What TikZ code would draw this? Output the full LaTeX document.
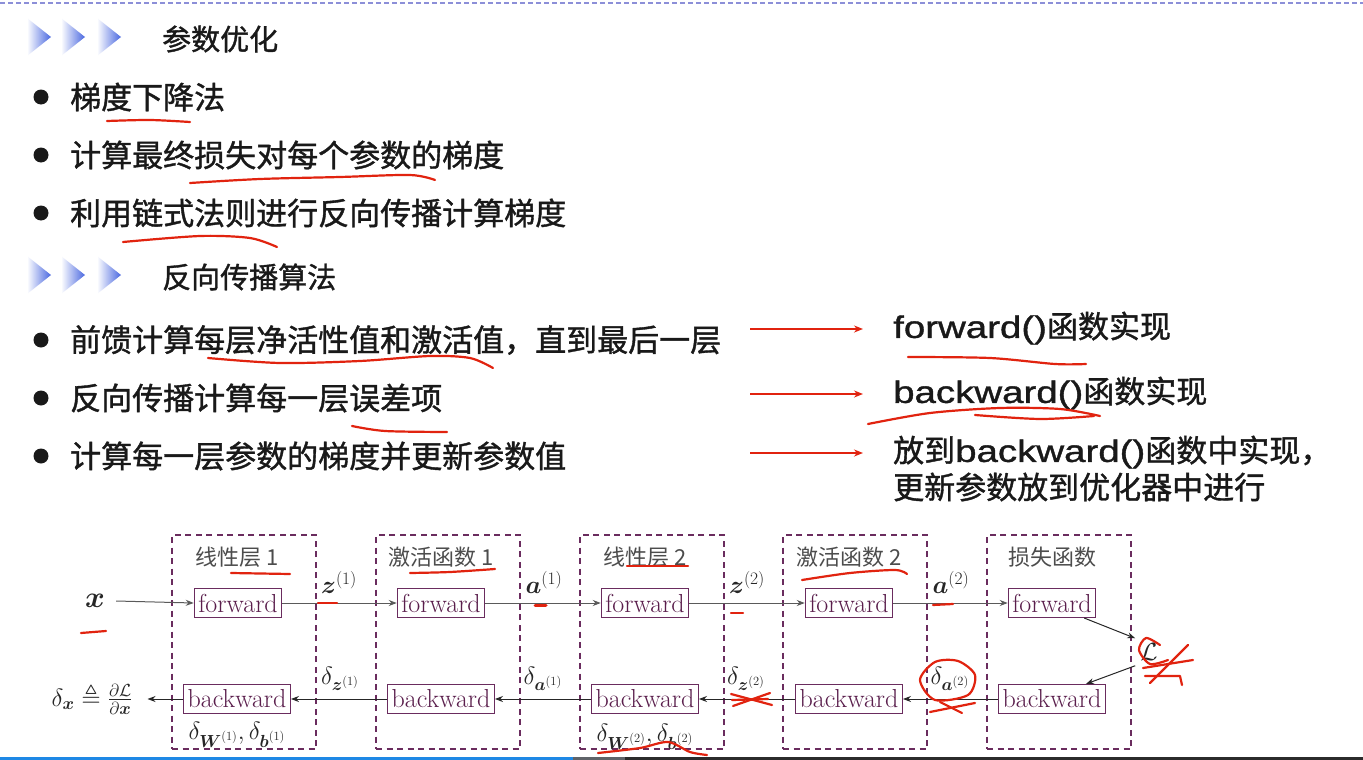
\RequirePackage{fix-cm}
\documentclass[tikz,border=0pt]{standalone}
\usepackage{amsmath,amssymb}
\usepackage{fontspec}
\newfontfamily\cjk{Noto Sans CJK SC}
\newfontfamily\cjkb[FakeBold=1.2]{Noto Sans CJK SC}
\newfontfamily\latf[FakeStretch=1.24,FakeBold=1.2]{Liberation Sans}
\usetikzlibrary{arrows.meta}
\definecolor{framec}{HTML}{6A2C5E}
\definecolor{nodetext}{HTML}{5A1E4C}
\definecolor{redink}{HTML}{E1230F}
\definecolor{chevc}{HTML}{4A68E0}
\definecolor{topdash}{HTML}{8C8FD8}
\definecolor{barblue}{HTML}{1E88E5}
\definecolor{bargray}{HTML}{5F6368}
\definecolor{bardark}{HTML}{2B2B2B}
\definecolor{fwdgray}{HTML}{5A5A5A}
\tikzset{
  heading/.style={anchor=west, inner sep=0pt, font=\cjkb\fontsize{29}{32}\selectfont, text=black!90},
  bullettext/.style={anchor=west, inner sep=0pt, font=\cjkb\fontsize{31}{34}\selectfont, text=black!90},
  righttext/.style={anchor=west, inner sep=0pt, font=\cjkb\fontsize{31}{34}\selectfont, text=black!90},
  bulletdot/.style={fill=black!90, draw=none},
  redarrow/.style={draw=redink, line width=2.4pt, -{Stealth[length=9pt,width=7pt]}},
  ink/.style={draw=redink, line width=2.2pt, line cap=round, line join=round},
  layerbox/.style={draw=framec, line width=1.4pt, dash pattern=on 6pt off 4.5pt, minimum width=144pt, minimum height=214pt, inner sep=0pt},
  layertitle/.style={font=\cjk\fontsize{22}{24}\selectfont, text=black!70, inner sep=0pt},
  fbox/.style={draw=framec, line width=1.1pt, text=nodetext, font=\fontsize{26}{28}\selectfont, inner xsep=4pt, inner ysep=0pt, minimum height=29pt},
  mlabel/.style={font=\fontsize{25}{27}\selectfont, inner sep=1pt, text=black!85},
  farrow/.style={draw=fwdgray, line width=1pt, -{Stealth[length=8pt,width=6pt]}},
  barrow/.style={draw=black!85, line width=1pt, -{Stealth[length=8pt,width=6pt]}},
}
\begin{document}
\begin{tikzpicture}[x=1pt,y=-1pt]
\useasboundingbox (0,0) rectangle (1363,760);
\fill[white] (0,0) rectangle (1363,760);
% top dashed line
\draw[topdash, line width=1.3pt, dash pattern=on 5pt off 3pt] (0,3) -- (1363,3);
% bottom bars
\fill[barblue] (0,757) rectangle (573,760);
\fill[bargray] (573,757) rectangle (625,760);
\fill[bardark] (625,757) rectangle (1363,760);

% chevrons
\foreach \cx/\cy in {27/37,61/37,97/37, 27/275,61/275,97/275}{
  \shade[left color=white, right color=chevc, draw=none]
    (\cx,\cy-19) -- (\cx+24,\cy) -- (\cx,\cy+19) -- cycle;
}

% headings
\node[heading] (h1) at (162,39) {参数优化};
\node[heading] (h2) at (162,277) {反向传播算法};

% bullets
\foreach \by in {97,155,213,340,398,456}{
  \fill[bulletdot] (41,\by) circle (7.5pt);
}
\node[bullettext] (b1) at (70,97) {梯度下降法};
\node[bullettext] (b2) at (70,155) {计算最终损失对每个参数的梯度};
\node[bullettext] (b3) at (70,213) {利用链式法则进行反向传播计算梯度};
\node[bullettext] (b4) at (70,340) {前馈计算每层净活性值和激活值，直到最后一层};
\node[bullettext] (b5) at (70,398) {反向传播计算每一层误差项};
\node[bullettext] (b6) at (70,456) {计算每一层参数的梯度并更新参数值};

% right texts
\node[righttext] (r1) at (893,328) {{\latf forward()}函数实现};
\node[righttext] (r2) at (893,393) {{\latf backward()}函数实现};
\node[righttext] (r3) at (893,452) {放到{\latf backward()}函数中实现，};
\node[righttext] (r4) at (893,487) {更新参数放到优化器中进行};

% red arrows
\coordinate (ra1) at (750,329);
\coordinate (ra2) at (750,394);
\coordinate (ra3) at (750,453);
\draw[redarrow] (ra1) -- ([xshift=-30pt]r1.west |- ra1);
\draw[redarrow] (ra2) -- ([xshift=-30pt]r2.west |- ra2);
\draw[redarrow] (ra3) -- ([xshift=-30pt]r3.west |- ra3);

% ===== diagram =====
\node[layerbox] (L1) at (244,642) {};
\node[layerbox] (L2) at (448,642) {};
\node[layerbox] (L3) at (652,642) {};
\node[layerbox] (L4) at (855,642) {};
\node[layerbox] (L5) at (1059,642) {};

\node[layertitle] (t1) at (237,557) {线性层 1};
\node[layertitle] (t2) at (441,557) {激活函数 1};
\node[layertitle] (t3) at (645,557) {线性层 2};
\node[layertitle] (t4) at (849,557) {激活函数 2};
\node[layertitle] (t5) at (1052,557) {损失函数};

\node[fbox] (f1) at (238,603) {forward};
\node[fbox] (f2) at (441,603) {forward};
\node[fbox] (f3) at (645,603) {forward};
\node[fbox] (f4) at (849,603) {forward};
\node[fbox] (f5) at (1052,603) {forward};

\node[fbox] (k1) at (237,699) {backward};
\node[fbox] (k2) at (441,699) {backward};
\node[fbox] (k3) at (645,699) {backward};
\node[fbox] (k4) at (849,699) {backward};
\node[fbox] (k5) at (1052,699) {backward};

\node[mlabel, font=\fontsize{30}{32}\selectfont] (x) at (95,601) {$\boldsymbol{x}$};
\node[mlabel, inner sep=5pt] (loss) at (1149,652) {$\mathcal{L}$};
\node[mlabel] (dx) at (92,699) {$\delta_{\boldsymbol{x}} \triangleq \frac{\partial \mathcal{L}}{\partial \boldsymbol{x}}$};

\draw[farrow] ([xshift=10pt]x.east) -- (f1.west);
\draw[farrow] (f1) -- (f2);
\draw[farrow] (f2) -- (f3);
\draw[farrow] (f3) -- (f4);
\draw[farrow] (f4) -- (f5);
\draw[barrow] ([xshift=-12pt]f5.south east) -- (loss.north west);
\draw[barrow] (loss.south west) -- ([xshift=-20pt]k5.north east);
\draw[barrow] (k5) -- (k4);
\draw[barrow] (k4) -- (k3);
\draw[barrow] (k3) -- (k2);
\draw[barrow] (k2) -- (k1);
\draw[barrow] (k1) -- ([xshift=14pt]dx.east);

\node[mlabel] (z1) at (339,582) {$\boldsymbol{z}^{(1)}$};
\node[mlabel] (a1) at (544,582) {$\boldsymbol{a}^{(1)}$};
\node[mlabel] (z2) at (747,582) {$\boldsymbol{z}^{(2)}$};
\node[mlabel] (a2) at (951,582) {$\boldsymbol{a}^{(2)}$};

\node[mlabel] (dz1) at (340,679) {$\delta_{\boldsymbol{z}^{(1)}}$};
\node[mlabel] (da1) at (543,679) {$\delta_{\boldsymbol{a}^{(1)}}$};
\node[mlabel] (dz2) at (746,679) {$\delta_{\boldsymbol{z}^{(2)}}$};
\node[mlabel] (da2) at (950,679) {$\delta_{\boldsymbol{a}^{(2)}}$};

\node[mlabel] (g1) at (237,735) {$\delta_{\boldsymbol{W}^{(1)}}, \delta_{\boldsymbol{b}^{(1)}}$};
\node[mlabel] (g2) at (645,737) {$\delta_{\boldsymbol{W}^{(2)}}, \delta_{\boldsymbol{b}^{(2)}}$};

% ===== red handwriting =====
\draw[ink] plot[smooth] coordinates {(107,121) (150,120) (190,122)};
\draw[ink] plot[smooth] coordinates {(190,183) (260,179) (340,177) (410,175) (435,180)};
\draw[ink] plot[smooth] coordinates {(123,242) (200,236) (250,238) (277,247)};
\draw[ink] plot[smooth] coordinates {(208,358) (280,363) (360,361) (430,356) (470,358) (493,368)};
\draw[ink] plot[smooth] coordinates {(352,426) (385,431) (447,432)};
\draw[ink] plot[smooth] coordinates {(908,357) (990,358) (1055,364) (1086,364)};
\draw[ink] plot[smooth] coordinates {(868,424) (930,413) (1000,408) (1060,409) (1100,416)};
\draw[ink] plot[smooth] coordinates {(975,415) (1040,419) (1094,416)};
% diagram marks
\draw[ink] (231,573) -- (290,574);
\draw[ink] plot[smooth] coordinates {(410,573) (450,572) (495,569)};
\draw[ink] (627,566) -- (688,566);
\draw[ink] plot[smooth] coordinates {(802,580) (850,573) (895,570) (907,574)};
\draw[ink] (318,603) -- (337,603);
\draw[ink] (81,633) -- (106,631);
\draw[ink, line width=3pt] (535,605) -- (546,605);
\draw[ink] (731,613) -- (743,613);
\draw[ink] (933,605) -- (953,604);
\draw[ink] (731,694) -- (772,705);
\draw[ink] (733,706) -- (770,693);
\draw[ink] (732,700) -- (768,699);
\draw[ink] plot[smooth cycle] coordinates {(935,700) (920,680) (935,662) (958,661) (975,675) (968,695)};
\draw[ink] (930,712) -- (975,703);
\draw[ink] (940,702) -- (962,713);
\draw[ink] plot[smooth] coordinates {(1160,645) (1146,638) (1139,650) (1150,664) (1168,660)};
\draw[ink] (1150,683) -- (1188,645);
\draw[ink] (1143,668) -- (1193,660);
\draw[ink] (1145,676) -- (1180,676) -- (1182,685);
\draw[ink] plot[smooth] coordinates {(598,753) (640,748) (668,742) (690,752) (707,755)};
\end{tikzpicture}
\end{document}
